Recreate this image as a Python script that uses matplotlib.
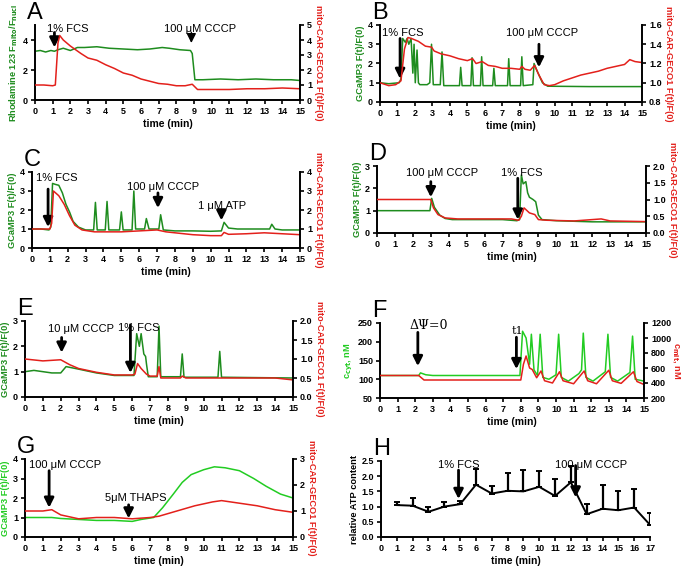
import matplotlib
matplotlib.use('Agg')
import matplotlib.pyplot as plt

plt.rcParams['font.family'] = ['Liberation Sans', 'DejaVu Sans']

W, H = 683, 566
GRN = '#1e8c1e'
GRN2 = '#22cc22'
RED = '#e3201b'

########################################################################
#_____ data (time in min) _____#
########################################################################

# A
tA_g = [0, 0.3, 0.6, 0.9, 1.1, 1.3, 1.6, 2.0, 2.4, 2.8, 3.5, 4.2, 5.0, 5.8, 6.5, 7.2, 7.6, 8.2, 8.8, 8.9, 9.05, 9.5, 10.5, 11.5, 12.5, 13.5, 14.5, 15]
yA_g = [3.25, 3.3, 3.2, 3.3, 3.25, 3.35, 3.45, 3.3, 3.5, 3.5, 3.55, 3.45, 3.4, 3.35, 3.4, 3.5, 3.45, 3.35, 3.3, 3.1, 1.35, 1.35, 1.4, 1.35, 1.4, 1.35, 1.35, 1.3]
tA_r = [0, 0.5, 1.0, 1.15, 1.3, 1.4, 1.6, 2.0, 2.3, 2.6, 3.0, 3.5, 4.0, 4.5, 5.0, 5.5, 6.0, 6.5, 7.0, 7.5, 8.0, 8.5, 8.9, 9.2, 10, 11, 12, 13, 14, 15]
yA_r = [1.0, 1.0, 0.95, 1.0, 3.8, 4.3, 4.0, 3.6, 3.35, 3.1, 2.8, 2.65, 2.35, 2.1, 1.8, 1.65, 1.4, 1.25, 1.1, 1.05, 0.95, 0.95, 1.05, 0.7, 0.7, 0.7, 0.75, 0.75, 0.8, 0.75]

# B
tB_g = [0, 0.5, 1.1, 1.2, 1.3, 1.45, 1.55, 1.65, 1.78, 1.88, 1.95, 2.02, 2.12, 2.2, 2.28, 2.7, 2.85, 2.95, 3.05, 3.45, 3.55, 3.65, 4.55, 4.62, 4.7, 5.2, 5.27, 5.35, 5.75, 5.82, 5.9, 6.45, 6.52, 6.6, 7.3, 7.37, 7.45, 8.05, 8.12, 8.2, 8.75, 8.82, 9.0, 9.3, 9.6, 12, 15]
yB_g = [1.0, 0.95, 1.0, 1.2, 3.3, 3.1, 3.3, 3.0, 3.3, 1.5, 3.0, 1.0, 2.7, 1.0, 0.9, 0.9, 1.0, 3.0, 0.9, 0.9, 2.6, 0.85, 0.85, 1.8, 0.85, 0.85, 2.3, 0.85, 0.85, 2.35, 0.85, 0.85, 1.75, 0.85, 0.85, 2.25, 0.85, 0.85, 2.35, 0.85, 0.9, 2.0, 1.6, 1.0, 0.82, 0.8, 0.8]
tB_r = [0, 0.5, 0.9, 1.2, 1.4, 1.6, 1.8, 2.2, 2.6, 2.95, 3.1, 3.5, 4.0, 4.5, 5.0, 5.3, 5.5, 5.85, 6.2, 6.6, 7.0, 7.5, 8.0, 8.12, 8.3, 8.6, 8.85, 9.1, 9.4, 9.7, 10.0, 10.5, 11.0, 11.5, 12.0, 12.5, 13.0, 13.5, 14.0, 14.3, 14.6, 15]
yB_r = [1.0, 0.97, 0.98, 1.02, 1.35, 1.47, 1.46, 1.43, 1.38, 1.37, 1.33, 1.3, 1.28, 1.25, 1.23, 1.25, 1.2, 1.22, 1.18, 1.17, 1.15, 1.15, 1.14, 1.17, 1.14, 1.13, 1.18, 1.08, 0.98, 0.97, 0.98, 1.02, 1.05, 1.08, 1.1, 1.12, 1.15, 1.17, 1.19, 1.24, 1.22, 1.21]

# C
tC_g = [0, 0.5, 0.95, 1.05, 1.15, 1.3, 1.5, 1.7, 1.9, 2.1, 2.3, 2.6, 3.0, 3.45, 3.55, 3.65, 4.1, 4.2, 4.3, 4.9, 5.0, 5.1, 5.6, 5.7, 5.8, 6.3, 6.4, 6.55, 7.1, 7.2, 7.35, 8.0, 9.0, 10.0, 10.6, 10.75, 11.0, 11.5, 12.5, 13.3, 13.42, 13.6, 14.0, 15]
yC_g = [1.0, 1.0, 0.95, 1.1, 3.4, 3.35, 3.3, 2.9, 2.3, 1.9, 1.4, 1.1, 0.95, 0.95, 2.4, 0.95, 0.95, 2.45, 0.95, 0.95, 1.9, 0.95, 0.95, 3.0, 1.0, 1.0, 1.55, 1.0, 1.0, 1.75, 0.95, 0.9, 0.9, 0.88, 0.9, 1.35, 1.05, 1.0, 1.0, 1.0, 1.25, 1.0, 0.95, 0.95]
tC_r = [0, 0.5, 1.0, 1.1, 1.2, 1.5, 1.8, 2.1, 2.4, 2.8, 3.5, 5.0, 6.0, 7.0, 7.5, 8.0, 9.0, 10.0, 10.6, 10.75, 11.0, 12.0, 13.0, 14.0, 15]
yC_r = [1.0, 1.0, 1.0, 1.3, 3.0, 2.75, 2.3, 1.7, 1.2, 0.95, 0.85, 0.85, 0.9, 0.95, 0.85, 0.8, 0.7, 0.65, 0.65, 0.82, 0.72, 0.75, 0.8, 0.75, 0.7]

# D
tD_g = [0, 1, 2, 2.95, 3.05, 3.2, 3.5, 3.8, 4.2, 5, 6, 7, 7.8, 7.95, 8.05, 8.15, 8.3, 8.4, 8.5, 8.7, 8.85, 9.0, 9.2, 10, 12, 15]
yD_g = [1.0, 1.0, 1.0, 1.0, 1.55, 1.15, 0.8, 0.65, 0.6, 0.6, 0.6, 0.6, 0.55, 0.6, 2.6, 2.2, 2.3, 1.8, 1.6, 1.5, 1.4, 0.8, 0.6, 0.55, 0.5, 0.5]
tD_r = [0, 1, 2, 3.0, 3.15, 3.4, 3.8, 4.5, 6, 7.5, 7.9, 8.05, 8.2, 8.5, 8.8, 9.0, 9.5, 11, 12.5, 13, 15]
yD_r = [1.0, 1.0, 1.0, 1.0, 0.75, 0.55, 0.45, 0.42, 0.42, 0.42, 0.38, 0.5, 0.75, 0.6, 0.55, 0.4, 0.38, 0.36, 0.42, 0.36, 0.34]

# E
tE_g = [0, 0.5, 1.5, 2.0, 2.3, 3.0, 4.0, 5.0, 6.1, 6.25, 6.4, 6.5, 6.65, 6.75, 6.8, 6.9, 7.4, 7.5, 7.6, 8.7, 8.8, 8.9, 10.8, 10.9, 11.0, 15]
yE_g = [1.0, 1.05, 0.95, 0.95, 1.2, 1.1, 0.95, 0.85, 0.85, 2.5, 2.0, 2.5, 1.7, 1.6, 1.3, 0.8, 0.8, 2.8, 0.8, 0.8, 1.7, 0.78, 0.78, 1.8, 0.78, 0.75]
tE_r = [0, 1, 2.0, 2.5, 3, 4, 5, 6, 6.15, 6.3, 6.5, 6.8, 7, 7.4, 7.5, 7.6, 8.7, 8.8, 9, 14, 15]
yE_r = [1.0, 0.95, 0.98, 0.85, 0.75, 0.65, 0.58, 0.58, 0.6, 0.88, 0.75, 0.6, 0.55, 0.55, 0.8, 0.5, 0.5, 0.55, 0.5, 0.5, 0.45]

# F (model)
tF_g = [0, 2.2, 2.3, 2.6, 3.0, 7.95, 8.1, 8.3, 8.5, 8.6, 8.75, 8.95, 9.1, 9.25, 9.6, 10.0, 10.15, 10.3, 10.7, 11.3, 11.45, 11.55, 11.7, 12.1, 12.8, 12.95, 13.1, 13.5, 14.2, 14.35, 14.5, 15]
yF_g = [110, 110, 117, 112, 110, 110, 228, 210, 140, 220, 125, 110, 220, 105, 100, 112, 220, 105, 95, 115, 125, 223, 105, 95, 120, 220, 105, 95, 118, 215, 100, 95]
tF_r = [0, 2.2, 2.5, 8.0, 8.15, 8.3, 8.5, 8.65, 8.9, 9.15, 9.35, 9.8, 10.2, 10.4, 11.0, 11.6, 11.8, 12.3, 13.0, 13.2, 13.7, 14.4, 14.6, 15]
yF_r = [500, 500, 440, 440, 650, 760, 600, 580, 470, 560, 430, 400, 550, 430, 390, 560, 430, 390, 570, 430, 395, 550, 420, 380]

# G
tG_g = [0, 1.5, 2, 3, 4, 5, 6, 6.5, 7.2, 7.7, 8.3, 8.8, 9.3, 10, 10.6, 11.2, 12, 12.8, 13.5, 14.3, 15]
yG_g = [1.0, 1.0, 0.95, 0.9, 0.85, 0.85, 0.8, 0.9, 1.0, 1.5, 2.2, 2.8, 3.2, 3.45, 3.6, 3.55, 3.4, 3.0, 2.6, 2.2, 2.0]
tG_r = [0, 1, 1.5, 2, 3, 4, 5, 6, 7, 7.5, 8.5, 9.5, 10.5, 11, 12, 13, 14, 15]
yG_r = [1.0, 1.0, 1.05, 0.85, 0.7, 0.75, 0.75, 0.7, 0.75, 0.8, 1.0, 1.2, 1.35, 1.4, 1.3, 1.2, 1.05, 0.95]

# H
tH = list(range(1, 18))
atp = [1.05, 1.03, 0.83, 1.0, 1.08, 1.72, 1.43, 1.52, 1.5, 1.65, 1.35, 1.8, 0.75, 0.93, 0.88, 0.97, 0.4]
atp_top = [1.15, 1.28, 1.0, 1.15, 1.2, 2.25, 1.68, 2.1, 2.2, 2.18, 1.92, 2.35, 1.08, 1.72, 1.5, 1.58, 0.8]

########################################################################

fig = plt.figure(figsize=(W / 100, H / 100), dpi=100)


def rect(l, t, r, b):
    return [l / W, 1 - b / H, (r - l) / W, (b - t) / H]


def style(ax, right=False):
    ax.spines['top'].set_visible(False)
    for s in ['left', 'right', 'bottom']:
        ax.spines[s].set_linewidth(1.4)
    if not right:
        ax.spines['right'].set_visible(False)
    ax.tick_params(width=1.2, length=3, labelsize=6.5, pad=2)
    for lab in ax.get_xticklabels() + ax.get_yticklabels():
        lab.set_fontweight('bold')


def arrow(ax, x, y0, y1, lw=2.0):
    ax.annotate('', xy=(x, y1), xytext=(x, y0),
                arrowprops=dict(arrowstyle='-|>', lw=lw, color='k', mutation_scale=14, shrinkA=0, shrinkB=0))


def panel(box, letter, tg, yg, tr, yr, ylimL, ticksL, ylimR, ticksR, labL, labR, gcol=GRN, fmtR=None):
    ax = fig.add_axes(rect(*box))
    ax.plot(tg, yg, color=gcol, lw=1.1)
    ax.set_xlim(0, 15)
    ax.set_ylim(*ylimL)
    ax.set_xticks(range(0, 16))
    ax.set_yticks(ticksL)
    ax.set_xlabel('time (min)', fontsize=7.5, fontweight='bold', labelpad=2)
    ax.set_ylabel(labL, fontsize=6.7, fontweight='bold', color=gcol, labelpad=2)
    ax2 = ax.twinx()
    ax2.plot(tr, yr, color=RED, lw=1.1)
    ax2.set_ylim(*ylimR)
    ax2.set_yticks(ticksR)
    if fmtR:
        ax2.set_yticklabels([fmtR % v for v in ticksR])
    ax2.set_ylabel(labR, fontsize=6.7, fontweight='bold', color=RED, rotation=270, labelpad=8)
    style(ax)
    style(ax2, right=True)
    ax2.spines['left'].set_visible(False)
    ax2.spines['bottom'].set_visible(False)
    fig.text(box[0] / W - 0.012, 1 - (box[1] - 12) / H, letter, fontsize=17, va='center', ha='left')
    return ax


GC = 'GCaMP3 F(t)/F(0)'
MC = 'mito-CAR-GECO1 F(t)/F(0)'

# A
ax = panel((35, 25, 300, 100), 'A', tA_g, yA_g, tA_r, yA_r, (0, 5), [0, 2, 4], (0, 5), range(0, 6),
           'Rhodamine 123 F$_{\\mathbf{mito}}$/F$_{\\mathbf{nucl}}$', MC)
ax.text(0.7, 4.55, '1% FCS', fontsize=8)
arrow(ax, 1.1, 4.5, 3.5)
ax.text(7.3, 4.55, '100 μM CCCP', fontsize=8)
arrow(ax, 8.85, 4.5, 3.8, lw=1.0)

# B
ax = panel((380, 25, 642, 102), 'B', tB_g, yB_g, tB_r, yB_r, (0, 4), range(0, 5), (0.8, 1.6),
           [0.8, 1.0, 1.2, 1.4, 1.6], GC, MC, fmtR='%.1f')
ax.text(0.1, 3.45, '1% FCS', fontsize=8)
arrow(ax, 1.15, 3.3, 1.2)
ax.text(7.2, 3.45, '100 μM CCCP', fontsize=8)
arrow(ax, 9.1, 3.0, 1.8)

# C
ax = panel((32, 172, 300, 248), 'C', tC_g, yC_g, tC_r, yC_r, (0, 4), range(0, 5), (0, 4), range(0, 5), GC, MC)
ax.text(0.2, 3.5, '1% FCS', fontsize=8)
arrow(ax, 0.9, 3.1, 1.1)
ax.text(5.3, 3.05, '100 μM CCCP', fontsize=8)
arrow(ax, 7.05, 2.9, 2.1)
ax.text(9.3, 2.05, '1 μM ATP', fontsize=8)
arrow(ax, 10.6, 1.95, 1.45)

# D
ax = panel((377, 166, 646, 233), 'D', tD_g, yD_g, tD_r, yD_r, (0, 3), range(0, 4), (0, 2),
           [0, 0.5, 1.0, 1.5, 2.0], GC, MC, fmtR='%.1f')
ax.text(1.6, 2.55, '100 μM CCCP', fontsize=8)
arrow(ax, 3.0, 2.3, 1.6)
ax.text(6.9, 2.55, '1% FCS', fontsize=8)
arrow(ax, 7.85, 2.45, 0.6)

# E
ax = panel((25, 321, 293, 397), 'E', tE_g, yE_g, tE_r, yE_r, (0, 3), range(0, 4), (0, 2),
           [0, 0.5, 1.0, 1.5, 2.0], GC, MC, fmtR='%.1f')
ax.text(1.3, 2.55, '10 μM CCCP', fontsize=8)
arrow(ax, 2.05, 2.35, 1.75)
ax.text(5.2, 2.6, '1% FCS', fontsize=8)
arrow(ax, 5.9, 2.85, 0.95)

# F
ax = panel((380, 323, 644, 398), 'F', tF_g, yF_g, tF_r, yF_r, (50, 250), range(50, 251, 50), (200, 1200),
           range(200, 1201, 200), 'c$_{\\mathbf{cyt}}$, nM', 'c$_{\\mathbf{mit}}$, nM', gcol=GRN2)
ax.text(1.7, 233, 'ΔΨ=0', fontsize=9, family='DejaVu Serif')
arrow(ax, 2.15, 225, 135)
ax.text(7.5, 222, 't1', fontsize=8, family='DejaVu Serif')
arrow(ax, 7.75, 212, 127)

# G
ax = panel((25, 459, 293, 537), 'G', tG_g, yG_g, tG_r, yG_r, (0, 4), range(0, 5), (0, 3), range(0, 4),
           GC, MC, gcol=GRN2)
ax.text(0.2, 3.55, '100 μM CCCP', fontsize=8)
arrow(ax, 1.35, 3.4, 1.5)
ax.text(4.5, 1.85, '5μM THAPS', fontsize=8)
arrow(ax, 5.8, 1.65, 0.95)

# H
ax = fig.add_axes(rect(381, 461, 650, 537))
err = [a - b for a, b in zip(atp_top, atp)]
ax.errorbar(tH, atp, yerr=[[0] * len(atp), err], color='k', lw=1.4, elinewidth=1.6, capsize=2.5, capthick=1.4)
ax.set_xlim(0, 17)
ax.set_ylim(0, 2.5)
ax.set_xticks(range(0, 18))
ax.set_yticks([0, 0.5, 1.0, 1.5, 2.0, 2.5])
ax.set_yticklabels(['%.1f' % v for v in [0, 0.5, 1.0, 1.5, 2.0, 2.5]])
ax.set_xlabel('time (min)', fontsize=7.5, fontweight='bold', labelpad=2)
ax.set_ylabel('relative ATP content', fontsize=6.7, fontweight='bold', labelpad=2)
style(ax)
ax.text(3.6, 2.28, '1% FCS', fontsize=8)
arrow(ax, 4.9, 2.2, 1.25)
ax.text(11.0, 2.28, '100 μM CCCP', fontsize=8)
arrow(ax, 12.3, 2.35, 1.3)
fig.text(381 / W - 0.012, 1 - (461 - 12) / H, 'H', fontsize=17, va='center', ha='left')

fig.savefig('out.png', dpi=100)
